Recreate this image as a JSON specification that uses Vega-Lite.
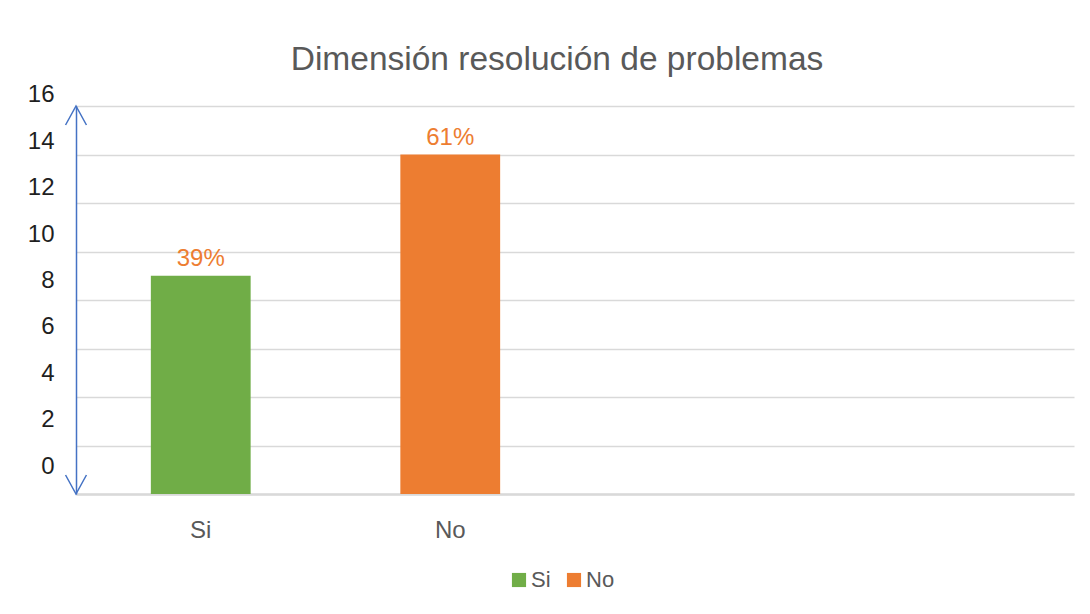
{
  "$schema": "https://vega.github.io/schema/vega-lite/v6.json",
  "width": 998,
  "height": 388,
  "autosize": {"type": "none"},
  "padding": {"left": 76, "top": 106, "right": 16, "bottom": 120},
  "background": "white",
  "config": {
    "font": "Liberation Sans",
    "view": {"stroke": null}
  },
  "title": {
    "text": "Dimensión resolución de problemas",
    "fontSize": 33.5,
    "fontWeight": "normal",
    "color": "#595959",
    "anchor": "middle",
    "dx": -18,
    "offset": 5
  },
  "datasets": {
    "bars": [
      {"cat": "Si", "value": 9, "label": "39%"},
      {"cat": "No", "value": 14, "label": "61%"}
    ],
    "arrows": [
      {"end": "top", "v": 16},
      {"end": "bottom", "v": 0}
    ]
  },
  "layer": [
    {
      "data": {"name": "bars"},
      "layer": [
        {
          "mark": {"type": "bar"},
          "encoding": {
            "x": {
              "field": "cat",
              "type": "nominal",
              "sort": null,
              "scale": {"domain": ["Si", "No", " ", "  "], "paddingInner": 0.6, "paddingOuter": 0.3},
              "axis": {
                "title": null,
                "labelAngle": 0,
                "labelFontSize": 24,
                "labelColor": "#595959",
                "labelPadding": 24,
                "ticks": false,
                "tickSize": 0,
                "domainColor": "#D9D9D9",
                "domainWidth": 2.5,
                "grid": false
              }
            },
            "y": {
              "field": "value",
              "type": "quantitative",
              "scale": {"domain": [0, 16], "nice": false},
              "axis": {
                "title": null,
                "values": [0, 2, 4, 6, 8, 10, 12, 14, 16],
                "labelFontSize": 24,
                "labelColor": "#1f1f1f",
                "labelPadding": 22,
                "labelOffset": {"expr": "-28 + 1.06 * datum.value"},
                "ticks": false,
                "tickSize": 0,
                "domainColor": "#4472C4",
                "domainWidth": 1.5,
                "gridColor": "#D9D9D9",
                "gridWidth": 1.5
              }
            },
            "color": {
              "field": "cat",
              "type": "nominal",
              "scale": {"domain": ["Si", "No"], "range": ["#70AD47", "#ED7D31"]},
              "legend": {
                "title": null,
                "orient": "none",
                "direction": "horizontal",
                "legendX": 432,
                "legendY": 463,
                "symbolType": "square",
                "symbolSize": 200,
                "symbolStrokeWidth": 0,
                "labelFontSize": 22,
                "labelColor": "#595959",
                "labelOffset": 1,
                "columnPadding": 12,
                "padding": 0
              }
            }
          }
        },
        {
          "mark": {"type": "text", "baseline": "alphabetic", "dy": -10, "fontSize": 24, "color": "#ED7D31"},
          "encoding": {
            "x": {"field": "cat", "type": "nominal", "sort": null},
            "y": {"field": "value", "type": "quantitative"},
            "text": {"field": "label"}
          }
        }
      ]
    },
    {
      "data": {"name": "arrows"},
      "mark": {"type": "point", "filled": false, "strokeWidth": 1.5, "color": "#4472C4", "size": 1444, "opacity": 1},
      "encoding": {
        "x": {"datum": 0, "type": "quantitative", "scale": {"domain": [0, 1]}, "axis": null},
        "y": {"field": "v", "type": "quantitative"},
        "shape": {
          "field": "end",
          "type": "nominal",
          "scale": {"domain": ["top", "bottom"], "range": ["M-0.55,1L0,0L0.55,1", "M-0.55,-1L0,0L0.55,-1"]},
          "legend": null
        }
      }
    }
  ],
  "resolve": {"scale": {"x": "independent"}}
}
